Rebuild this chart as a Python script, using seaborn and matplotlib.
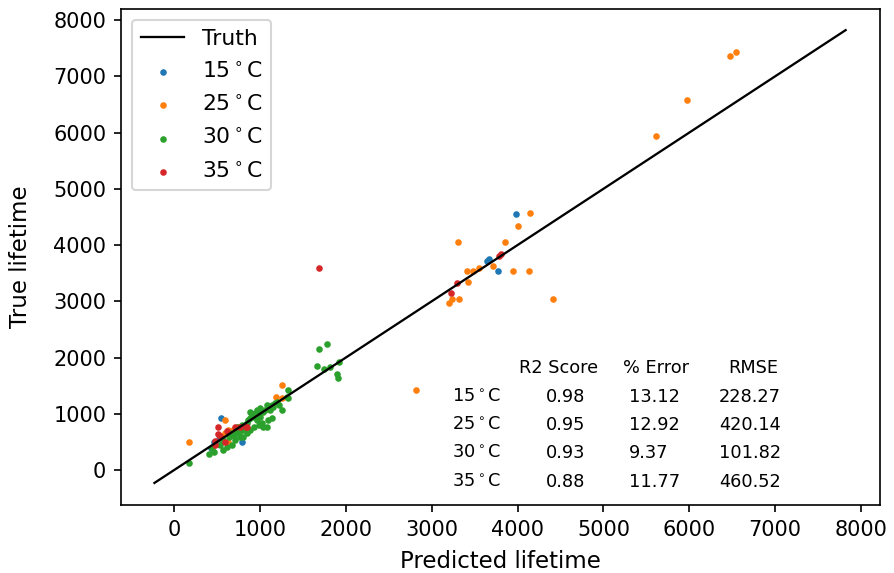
import matplotlib
matplotlib.use("Agg")
import matplotlib.pyplot as plt
import seaborn as sns
import numpy as np
import pandas as pd

# ---------------- data ----------------
truth_range = [-230, 7820]

pred_15 = [547, 458, 427, 788, 520, 3663, 3640, 3772, 3981]
true_15 = [919, 504, 385, 504, 560, 3745, 3720, 3544, 4551]

pred_25 = [178, 586, 621, 632, 594, 560, 680, 720, 760, 540, 1257, 1180, 1250,
           2817, 3198, 3236, 3314, 4408, 3426, 3414, 3484, 3554, 3710, 3950,
           4129, 3303, 3850, 4001, 4144, 5611, 5972, 6473, 6543]
true_25 = [504, 889, 711, 504, 652, 560, 720, 740, 760, 600, 1511, 1304, 1286,
           1422, 2963, 3034, 3034, 3034, 3348, 3544, 3544, 3597, 3627, 3544,
           3544, 4048, 4048, 4338, 4569, 5938, 6578, 7360, 7431]

pred_30 = [167, 400, 466, 439, 536, 574, 633, 652, 691, 710, 729, 749, 768, 788,
           807, 827, 846, 865, 885, 904, 885, 924, 943, 962, 982, 1001, 1021,
           1040, 1079, 1098, 1118, 1137, 1079, 1098, 1156, 1176, 1195, 1215,
           1254, 1311, 1331, 1323, 768, 807, 846, 710, 671, 613, 574, 982, 924,
           885, 729, 962, 1040, 1001, 1060, 1137,
           1692, 1785, 1668, 1742, 1816, 1925, 1894, 1913]
true_30 = [130, 284, 326, 385, 444, 533, 593, 652, 604, 681, 711, 652, 741, 800,
           711, 770, 830, 889, 919, 978, 1037, 948, 1007, 1067, 1007, 948, 830,
           770, 770, 889, 1067, 919, 1156, 1096, 1126, 1185, 1215, 1156,
           1067, 1304, 1274, 1422, 593, 593, 652, 533, 444, 415, 356, 800, 770,
           711, 770, 889, 1037, 1096, 1067, 1156,
           2157, 2234, 1849, 1790, 1837, 1920, 1701, 1630]

pred_35 = [505, 509, 477, 594, 710, 768, 838, 850, 530, 620, 480,
           1688, 3221, 3291, 3803, 3780]
true_35 = [770, 640, 444, 504, 770, 770, 758, 770, 600, 700, 520,
           3591, 3152, 3330, 3845, 3800]

temps = ["15$^\\circ$C", "25$^\\circ$C", "30$^\\circ$C", "35$^\\circ$C"]
colors = ["#1f77b4", "#ff7f0e", "#2ca02c", "#d62728"]

table_header = ["R2 Score", "% Error", "RMSE"]
r2_scores = ["0.98", "0.95", "0.93", "0.88"]
pct_errors = ["13.12", "12.92", "9.37", "11.77"]
rmses = ["228.27", "420.14", "101.82", "460.52"]

# ---------------- plot ----------------
fig = plt.figure(figsize=(5.96, 3.82), dpi=150)
ax = fig.add_subplot(111)
fig.subplots_adjust(left=0.1353, right=0.9843, top=0.9843, bottom=0.1187)

ax.plot(truth_range, truth_range, color="black", lw=1.1, label="Truth")

series = [(pred_15, true_15), (pred_25, true_25), (pred_30, true_30), (pred_35, true_35)]
for (p, t), name, c in zip(series, temps, colors):
    df = pd.DataFrame({"pred": p, "true": t})
    sns.scatterplot(data=df, x="pred", y="true", color=c, s=10, linewidth=0,
                    ax=ax, label=name)

ax.set_xlabel("Predicted lifetime", fontsize=11, labelpad=5)
ax.set_ylabel("True lifetime", fontsize=11, labelpad=10)
ax.tick_params(labelsize=10)
ax.set_xticks(np.arange(0, 8001, 1000))
ax.set_yticks(np.arange(0, 8001, 1000))
ax.set_xlim(-620, 8220)
ax.set_ylim(-622, 8196)
ax.legend(loc="upper left", fontsize=10.5, labelspacing=0.6)

# metrics table
fs = 8.5
row_y = [1298, 800, 302, -213]
ax.text(4016, 1813, table_header[0], fontsize=fs, va="center", ha="left")
ax.text(5227, 1813, table_header[1], fontsize=fs, va="center", ha="left")
ax.text(6449, 1813, table_header[2], fontsize=fs, va="center", ha="left")
for i, y in enumerate(row_y):
    ax.text(3236, y, temps[i], fontsize=fs, va="center", ha="left")
    ax.text(4331, y, r2_scores[i], fontsize=fs, va="center", ha="left")
    ax.text(5297, y, pct_errors[i], fontsize=fs, va="center", ha="left")
    ax.text(6345, y, rmses[i], fontsize=fs, va="center", ha="left")

fig.savefig("out.png", dpi=150)
